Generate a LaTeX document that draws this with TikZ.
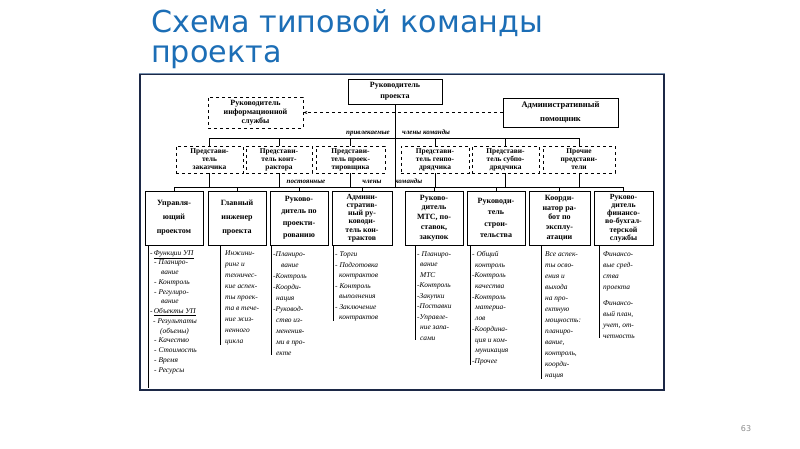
\documentclass[tikz,border=0pt]{standalone}
\usepackage{fontspec}
\setmainfont{Liberation Serif}
\newfontfamily\titlefont{DejaVu Sans}
\usetikzlibrary{arrows.meta}
\definecolor{titleblue}{RGB}{28,110,182}
\definecolor{framecol}{RGB}{28,40,70}
\definecolor{frametop}{RGB}{120,145,175}
\begin{document}
\begin{tikzpicture}[x=1pt,y=-1pt,
  bx/.style={draw, line width=0.8pt, align=center, inner sep=0pt, minimum width=58, minimum height=54},
  dbx/.style={draw, dashed, line width=0.6pt, align=center, inner sep=0pt, minimum height=27, font=\bfseries\fontsize{7.4}{8}\selectfont},
  lst/.style={anchor=north west, align=left, inner xsep=2pt, inner ysep=0pt, font=\itshape\fontsize{7.4}{11}\selectfont},
  lbl/.style={inner sep=0pt, font=\bfseries\itshape\fontsize{7}{8}\selectfont},
  ttl/.style={anchor=base west, inner sep=0pt, text=titleblue, font=\titlefont\fontsize{30.2}{36}\selectfont},
  ln/.style={line width=0.6pt}]
\useasboundingbox[fill=white] (0,0) rectangle (800,449);
% title
\node[ttl] (t1) at (151,33) {Схема типовой команды};
\node[ttl] (t2) at (151,63) {проекта};
\node[anchor=base, inner sep=0pt, text=black!45, font=\titlefont\fontsize{8}{9}\selectfont] (pg) at (746,431) {63};
% frame
\draw[line width=2.6pt, framecol] (140,74) rectangle (664,390);
\draw[line width=1.4pt, frametop] (139,73.5) -- (665,73.5);
% top level
\node[draw, line width=0.8pt, align=center, inner sep=0pt, minimum width=94, minimum height=25, font=\bfseries\fontsize{8}{11}\selectfont] (rp) at (395,91.5) {Руководитель\\проекта};
\node[draw, dashed, line width=0.6pt, align=center, inner sep=0pt, minimum width=95, minimum height=31, font=\bfseries\fontsize{8}{9}\selectfont] (info) at (255.5,112.5) {Руководитель\\информационной\\службы};
\node[draw, line width=0.8pt, align=center, inner sep=0pt, minimum width=115, minimum height=29, font=\bfseries\fontsize{8.5}{14}\selectfont] (adm) at (560.5,112.5) {Административный\\помощник};
% second row
\node[dbx, minimum width=67] (r1) at (209.5,159.5) {Представи-\\тель\\заказчика};
\node[dbx, minimum width=66] (r2) at (279,159.5) {Представи-\\тель конт-\\рактора};
\node[dbx, minimum width=69] (r3) at (350.5,159.5) {Представи-\\тель проек-\\тировщика};
\node[dbx, minimum width=68] (r4) at (435,159.5) {Представи-\\тель генпо-\\дрядчика};
\node[dbx, minimum width=67] (r5) at (505.5,159.5) {Представи-\\тель субпо-\\дрядчика};
\node[dbx, minimum width=72] (r6) at (579,159.5) {Прочие\\представи-\\тели};
% third row
\node[bx, font=\bfseries\fontsize{8}{14}\selectfont] (A) at (174,218) {Управля-\\ющий\\проектом};
\node[bx, font=\bfseries\fontsize{8}{14}\selectfont] (B) at (237,218) {Главный\\инженер\\проекта};
\node[bx, font=\bfseries\fontsize{8}{12}\selectfont] (C) at (299,218) {Руково-\\дитель по\\проекти-\\рованию};
\node[bx, minimum width=60, font=\bfseries\fontsize{7.8}{8.2}\selectfont] (D) at (362,218) {Админи-\\стратив-\\ный ру-\\ководи-\\тель кон-\\трактов};
\node[bx, font=\bfseries\fontsize{8}{9.8}\selectfont] (E) at (434,218) {Руково-\\дитель\\МТС, по-\\ставок,\\закупок};
\node[bx, font=\bfseries\fontsize{8}{11.5}\selectfont] (F) at (496,218) {Руководи-\\тель\\строи-\\тельства};
\node[bx, minimum width=61, font=\bfseries\fontsize{8}{9.8}\selectfont] (G) at (559.5,218) {Коорди-\\натор ра-\\бот по\\эксплу-\\атации};
\node[bx, minimum width=59, font=\bfseries\fontsize{7.8}{8.2}\selectfont] (H) at (623.5,218) {Руково-\\дитель\\финансо-\\во-бухгал-\\терской\\службы};
% labels
\node[lbl, anchor=base east] (lb1) at (390,135) {привлекаемые};
\node[lbl, anchor=base west] (lb2) at (402,135) {члены команды};
\node[lbl, anchor=base] (lb3) at (306,184) {постоянные};
\node[lbl, anchor=base] (lb4) at (372,184) {члены};
\node[lbl, anchor=base west] (lb5) at (395,184) {команды};
% connectors
\coordinate (y1) at (0,138);
\coordinate (y2) at (0,187);
\draw[ln] (rp.south) -- (rp.south |- y2);
\draw[ln] (r1.north) -- (r1.north |- y1) -- (r6.north |- y1) -- (r6.north);
\foreach \n in {r2,r3,r4,r5} \draw[ln] (\n.north) -- (\n.north |- y1);
\foreach \n in {r1,r2,r3,r4,r5,r6} \draw[ln] (\n.south) -- (\n.south |- y2);
\draw[ln] (A.north) -- (A.north |- y2) -- (H.north |- y2) -- (H.north);
\foreach \n in {B,C,D,E,F,G} \draw[ln] (\n.north) -- (\n.north |- y2);
\draw[ln, dashed, -{Stealth[length=4pt,width=3pt]}] (adm.west) -- (info.east);
% lists
\node[lst, font=\itshape\fontsize{7.4}{9.75}\selectfont] (la) at (148,250) {-\,\underline{Функции УП}\\
\hspace*{4pt}- Планиро-\\
\hspace*{11pt}вание\\
\hspace*{4pt}- Контроль\\
\hspace*{4pt}- Регулиро-\\
\hspace*{11pt}вание\\
-\,\underline{Объекты УП}\\
\hspace*{3pt}- Результаты\\
\hspace*{10pt}(объемы)\\
\hspace*{4pt}- Качество\\
\hspace*{4pt}- Стоимость\\
\hspace*{4pt}- Время\\
\hspace*{4pt}- Ресурсы};
\coordinate (endA) at (148,388);
\draw[ln] (A.south -| la.west) -- (endA);

\node[lst, inner xsep=5pt] (lb) at (220,250) {Инжини-\\ринг и\\техничес-\\кие аспек-\\ты проек-\\та в тече-\\ние жиз-\\ненного\\цикла};
\draw[ln] (B.south -| lb.west) -- (lb.south west);

\node[lst] (lc) at (271,251) {-Планиро-\\\hspace*{8pt}вание\\-Контроль\\-Коорди-\\\hspace*{3pt}нация\\-Руковод-\\\hspace*{3pt}ство из-\\\hspace*{3pt}менения-\\\hspace*{3pt}ми в про-\\\hspace*{3pt}екте};
\draw[ln] (C.south -| lc.west) -- (lc.south west);

\node[lst, font=\itshape\fontsize{7.4}{10}\selectfont] (ld) at (333,251) {- Торги\\[1pt]- Подготовка\\\hspace*{4pt}контрактов\\[1pt]- Контроль\\\hspace*{4pt}выполнения\\[1.5pt]- Заключение\\\hspace*{4pt}контрактов};
\draw[ln] (D.south -| ld.west) -- (ld.south west);

\node[lst, font=\itshape\fontsize{7.4}{10.5}\selectfont] (le) at (415,251) {- Планиро-\\\hspace*{3pt}вание\\\hspace*{3pt}МТС\\-Контроль\\-Закупки\\-Поставки\\-Управле-\\\hspace*{3pt}ние запа-\\\hspace*{3pt}сами};
\draw[ln] (E.south -| le.west) -- (le.south west);

\node[lst, font=\itshape\fontsize{7.4}{10.7}\selectfont] (lf) at (470,251) {- Общий\\\hspace*{3pt}контроль\\-Контроль\\\hspace*{3pt}качества\\-Контроль\\\hspace*{3pt}материа-\\\hspace*{3pt}лов\\-Координа-\\\hspace*{3pt}ция и ком-\\\hspace*{3pt}муникация\\-Прочее};
\draw[ln] (F.south -| lf.west) -- (lf.south west);

\node[lst, inner xsep=4pt] (lg) at (541,251) {Все аспек-\\ты осво-\\ения и\\выхода\\на про-\\ектную\\мощность:\\планиро-\\вание,\\контроль,\\коорди-\\нация};
\draw[ln] (G.south -| lg.west) -- (lg.south west);

\node[lst, inner xsep=4pt] (lh) at (599,251) {Финансо-\\вые сред-\\ства\\проекта\\[5pt]Финансо-\\вый план,\\учет, от-\\четность};
\draw[ln] (H.south -| lh.west) -- (lh.south west);
\end{tikzpicture}
\end{document}
